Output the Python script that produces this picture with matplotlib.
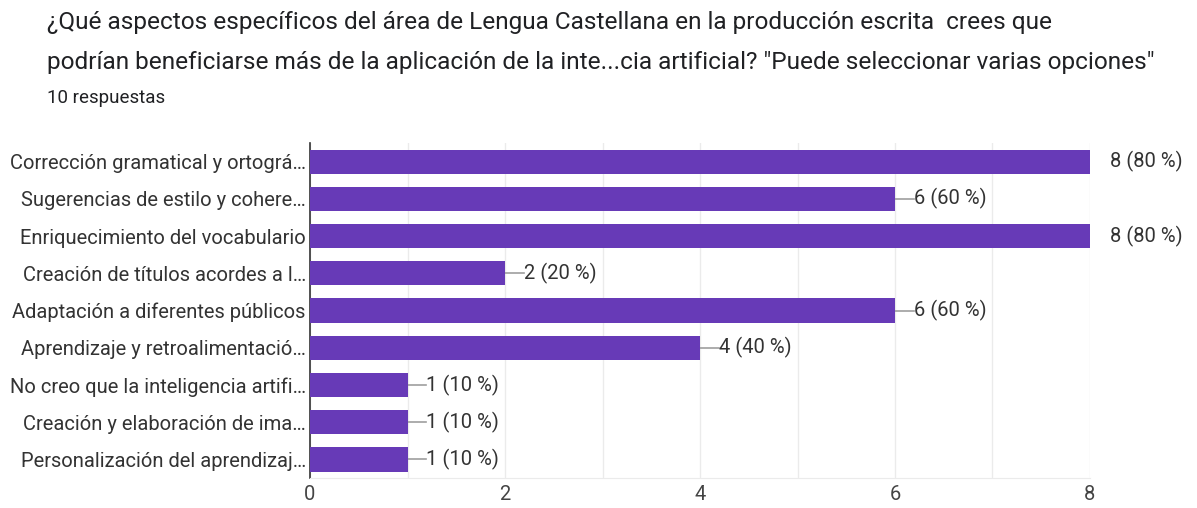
import matplotlib.pyplot as plt

# survey answers (Google Forms style horizontal bar chart)
categories = [
    'Corrección gramatical y ortográ…',
    'Sugerencias de estilo y cohere…',
    'Enriquecimiento del vocabulario',
    'Creación de títulos acordes a l…',
    'Adaptación a diferentes públicos',
    'Aprendizaje y retroalimentació…',
    'No creo que la inteligencia artifi…',
    'Creación y elaboración de ima…',
    'Personalización del aprendizaj…',
]
counts = [8, 6, 8, 2, 6, 4, 1, 1, 1]
total_responses = 10
x_ticks = [0, 2, 4, 6, 8]

BAR_COLOR = '#673ab7'
TEXT_COLOR = '#333333'
LABEL_SIZE = 14.5

plt.rcParams['font.family'] = ['Roboto', 'DejaVu Sans']

fig = plt.figure(figsize=(11.97, 5.08), dpi=100)
ax = fig.add_axes([0.259, 0.059, 0.6516, 0.6595])

y = list(range(len(categories)))
ax.barh(y, counts, height=0.65, color=BAR_COLOR, zorder=3)

xmax = 8
for yi, c in zip(y, counts):
    pct = '%d (%d %%)' % (c, round(100 * c / total_responses))
    if c >= xmax:
        ax.text(c + 0.21, yi, pct, va='center', ha='left', fontsize=LABEL_SIZE,
                color=TEXT_COLOR, clip_on=False)
    else:
        ax.plot([c, c + 0.19], [yi, yi], color='#9e9e9e', lw=1.2, zorder=2)
        ax.text(c + 0.19, yi, pct, va='center', ha='left', fontsize=LABEL_SIZE,
                color=TEXT_COLOR)

ax.set_xlim(0, xmax)
ax.set_ylim(len(categories) - 0.5, -0.5)
ax.set_yticks(y)
ax.set_yticklabels(categories, fontsize=LABEL_SIZE, color=TEXT_COLOR)
ax.set_xticks(x_ticks)
ax.set_xticklabels([str(t) for t in x_ticks], fontsize=LABEL_SIZE, color='#444444')
ax.set_xticks(range(0, xmax + 1), minor=True)
ax.tick_params(axis='both', which='both', length=0)
ax.tick_params(axis='x', pad=5)
ax.tick_params(axis='y', pad=3)
ax.grid(axis='x', which='both', color='#ebebeb', lw=1, zorder=0)

for side in ['top', 'right']:
    ax.spines[side].set_visible(False)
ax.spines['bottom'].set_color('#ebebeb')
ax.spines['left'].set_color('#333333')
ax.spines['left'].set_linewidth(1.2)

fig.text(47 / 1197, 1 - 22 / 508,
         '¿Qué aspectos específicos del área de Lengua Castellana en la producción escrita  crees que',
         fontsize=17.6, color='#202124', va='center', ha='left')
fig.text(47 / 1197, 1 - 62 / 508,
         'podrían beneficiarse más de la aplicación de la inte...cia artificial? "Puede seleccionar varias opciones"',
         fontsize=17.6, color='#202124', va='center', ha='left')
fig.text(47 / 1197, 1 - 98 / 508, '%d respuestas' % total_responses,
         fontsize=13.5, color='#202124', va='center', ha='left')

fig.savefig('out.png', dpi=100)
